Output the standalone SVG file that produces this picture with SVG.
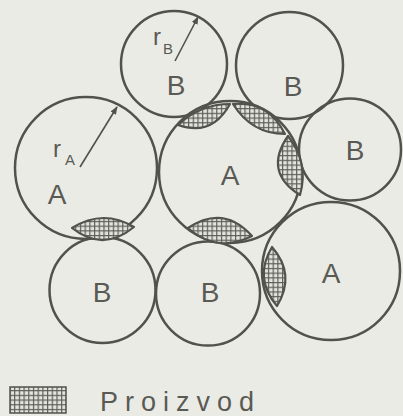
<svg xmlns="http://www.w3.org/2000/svg" width="403" height="416" viewBox="0 0 403 416">
  <style>
    .grain { fill: none; stroke: #52524d; stroke-width: 2.5; }
    .lens { fill: url(#hatch); stroke: #52524d; stroke-width: 2.2; stroke-linejoin: round; }
    .lbl { font-family: "Liberation Sans", Arial, sans-serif; fill: #5a5a55; text-anchor: middle; }
    .big { font-size: 28px; }
    .r { font-size: 24px; }
    .sub { font-size: 15px; }
    .radius { stroke: #52524d; stroke-width: 1.6; fill: none; marker-end: url(#arrow); }
  </style>
  <defs>
    <pattern id="hatch" patternUnits="userSpaceOnUse" width="4.7" height="4.7">
      <rect width="4.7" height="4.7" fill="#e4e4de"/>
      <path d="M0,0.6 H4.7 M0.6,0 V4.7" stroke="#5f5f59" stroke-width="1.2"/>
    </pattern>
    <marker id="arrow" viewBox="0 0 10 10" refX="9" refY="5" markerWidth="5" markerHeight="5" orient="auto" markerUnits="strokeWidth">
      <path d="M0,1 L10,5 L0,9 Z" fill="#52524d"/>
    </marker>
  </defs>
  <rect width="403" height="416" fill="#ebebe6"/>

  <g id="B1"><circle class="grain" cx="174" cy="64" r="53"/><text class="lbl big" x="176" y="95">B</text></g>
  <g id="B2"><circle class="grain" cx="289.5" cy="65.5" r="53.5"/><text class="lbl big" x="293" y="96">B</text></g>
  <g id="B3"><circle class="grain" cx="350" cy="149.5" r="51"/><text class="lbl big" x="355" y="160">B</text></g>
  <g id="A1"><circle class="grain" cx="86" cy="168" r="71"/><text class="lbl big" x="57" y="204">A</text></g>
  <g id="A2"><circle class="grain" cx="230" cy="172" r="71"/><text class="lbl big" x="230" y="185">A</text></g>
  <g id="A3"><circle class="grain" cx="331" cy="271" r="69"/><text class="lbl big" x="331" y="283">A</text></g>
  <g id="B4"><circle class="grain" cx="102.5" cy="290" r="53"/><text class="lbl big" x="102" y="302">B</text></g>
  <g id="B5"><circle class="grain" cx="208" cy="293.5" r="52"/><text class="lbl big" x="210" y="302">B</text></g>

  <g id="product">
    <path class="lens" d="M178,125 Q200.4,104 230,104 Q211.9,137 178,125 Z"/>
    <path class="lens" d="M233,104 Q268.7,101 285,134 Q251.7,134 233,104 Z"/>
    <path class="lens" d="M288,136 Q309.2,163 300,195 Q263,171.9 288,136 Z"/>
    <path class="lens" d="M188,228 Q223.5,204.2 252,236 Q217.3,253.8 188,228 Z"/>
    <path class="lens" d="M72,228 Q103,208.5 134,227 Q103,252.5 72,228 Z"/>
    <path class="lens" d="M272,247 Q296.1,274.5 277,306 Q253.3,278.1 272,247 Z"/>
  </g>

  <g id="connectors">
    <line class="radius" x1="175" y1="61" x2="198" y2="17"/>
    <line class="radius" x1="80" y1="167" x2="117" y2="107"/>
  </g>

  <g id="radius-labels">
    <text class="lbl r" x="157" y="45">r</text><text class="lbl sub" x="168" y="54">B</text>
    <text class="lbl r" x="57" y="157">r</text><text class="lbl sub" x="70" y="165">A</text>
  </g>

  <g id="legend">
    <rect x="10" y="387" width="56" height="26" fill="url(#hatch)" stroke="#52524d" stroke-width="1.5"/>
    <text x="100" y="411" font-family="Liberation Sans, Arial, sans-serif" font-size="27" letter-spacing="7" fill="#5a5a55">Proizvod</text>
  </g>
</svg>
